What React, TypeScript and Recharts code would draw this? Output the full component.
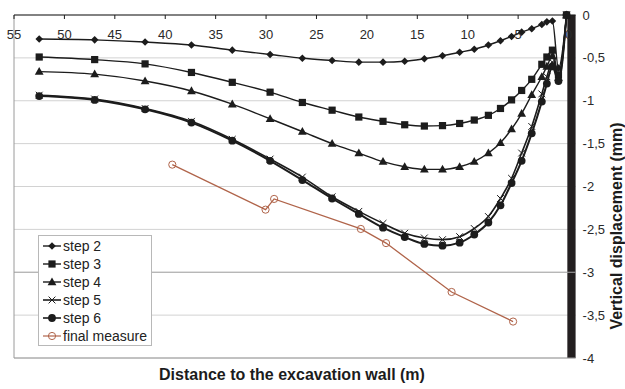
import React from 'react';
import { LineChart, Line, XAxis, YAxis, CartesianGrid, ReferenceArea, ReferenceLine, Label } from 'recharts';

const FONT = '"Liberation Sans", Arial, Helvetica, sans-serif';
const INK = '#1c1c1c';
const BROWN = '#b0644a';

// distances (m) of the step measurement points
const stepDistances = [52.5, 47.0, 42.0, 37.4, 33.35, 29.6, 26.4, 23.45, 20.8, 18.4, 16.25, 14.3, 12.5, 10.8, 9.35, 7.95, 6.75, 5.65, 4.65, 3.65, 2.65, 2.15, 1.6, 1.0, 0.2];
const step2 = [-0.28, -0.29, -0.315, -0.35, -0.41, -0.46, -0.505, -0.53, -0.55, -0.55, -0.54, -0.51, -0.475, -0.435, -0.4, -0.35, -0.3, -0.25, -0.2, -0.16, -0.11, -0.08, -0.07, -0.62, 0];
const step3 = [-0.49, -0.52, -0.57, -0.67, -0.785, -0.9, -1.02, -1.11, -1.19, -1.24, -1.28, -1.295, -1.29, -1.265, -1.225, -1.17, -1.09, -0.99, -0.88, -0.75, -0.575, -0.49, -0.41, -0.7, 0];
const step4 = [-0.66, -0.69, -0.77, -0.886, -1.04, -1.21, -1.36, -1.5, -1.61, -1.71, -1.77, -1.8, -1.8, -1.77, -1.71, -1.61, -1.49, -1.33, -1.15, -0.93, -0.72, -0.6, -0.48, -0.73, 0];
const step5 = [-0.935, -0.98, -1.09, -1.24, -1.45, -1.68, -1.89, -2.12, -2.29, -2.43, -2.545, -2.6, -2.62, -2.585, -2.49, -2.35, -2.14, -1.905, -1.61, -1.3, -0.92, -0.72, -0.55, -0.75, 0];
const step6 = [-0.945, -0.99, -1.1, -1.255, -1.466, -1.7, -1.925, -2.14, -2.32, -2.48, -2.59, -2.67, -2.69, -2.655, -2.56, -2.42, -2.22, -1.96, -1.7, -1.38, -1.01, -0.8, -0.6, -0.77, 0];

const finalDistances = [39.3, 30.05, 29.2, 20.6, 18.1, 11.6, 5.5];
const finalMeasure = [-1.745, -2.27, -2.145, -2.495, -2.66, -3.23, -3.575];

const xTicks = [55, 50, 45, 40, 35, 30, 25, 20, 15, 10, 5, 0];
const yTicks = [0, -0.5, -1, -1.5, -2, -2.5, -3, -3.5, -4];

const stepData = stepDistances.map((d, i) => ({ d, s2: step2[i], s3: step3[i], s4: step4[i], s5: step5[i], s6: step6[i] }));
const finalData = finalDistances.map((d, i) => ({ d, fm: finalMeasure[i] }));

type Shape = 'diamond' | 'square' | 'triangle' | 'x' | 'circle' | 'open';

function marker(shape: Shape, cx: number, cy: number, key?: any) {
  switch (shape) {
    case 'diamond': {
      const s = 3.8;
      return <path key={key} d={`M${cx},${cy - s}L${cx + s},${cy}L${cx},${cy + s}L${cx - s},${cy}Z`} fill={INK} />;
    }
    case 'square': {
      const s = 3.6;
      return <rect key={key} x={cx - s} y={cy - s} width={2 * s} height={2 * s} fill={INK} />;
    }
    case 'triangle':
      return <path key={key} d={`M${cx},${cy - 4.6}L${cx + 4.4},${cy + 3.2}L${cx - 4.4},${cy + 3.2}Z`} fill={INK} />;
    case 'x':
      return (
        <path key={key} d={`M${cx - 3.4},${cy - 3.4}L${cx + 3.4},${cy + 3.4}M${cx - 3.4},${cy + 3.4}L${cx + 3.4},${cy - 3.4}`} stroke={INK} strokeWidth={1} fill="none" />
      );
    case 'circle':
      return <circle key={key} cx={cx} cy={cy} r={3.9} fill={INK} />;
    case 'open':
      return <circle key={key} cx={cx} cy={cy} r={3.6} fill="none" stroke={BROWN} strokeWidth={1} />;
  }
  return null;
}

const dotFor = (shape: Shape) => (p: any) => {
  if (p.cx == null || p.cy == null) return <g key={p.index} />;
  return marker(shape, p.cx, p.cy, p.index);
};

const series: { key: string; name: string; shape: Shape; width: number; color: string }[] = [
  { key: 's2', name: 'step 2', shape: 'diamond', width: 1.4, color: INK },
  { key: 's3', name: 'step 3', shape: 'square', width: 1.4, color: INK },
  { key: 's4', name: 'step 4', shape: 'triangle', width: 1.4, color: INK },
  { key: 's5', name: 'step 5', shape: 'x', width: 1.6, color: INK },
  { key: 's6', name: 'step 6', shape: 'circle', width: 2, color: INK },
];

const fmt = (v: number) => String(v).replace('.', ',');

export default function App() {
  return (
    <div style={{ position: 'absolute', left: 0, top: 0, width: 625, height: 389, background: '#fff', fontFamily: FONT }}>
      <LineChart width={625} height={389} margin={{ top: 15, right: 0, bottom: 31, left: 14 }}>
        <CartesianGrid horizontal vertical={false} stroke="#d2d2d2" strokeWidth={1} />
        <XAxis
          type="number"
          dataKey="d"
          domain={[-0.7, 55]}
          reversed
          allowDataOverflow
          orientation="top"
          mirror
          ticks={xTicks}
          interval={0}
          tickSize={4}
          tickMargin={8}
          height={30}
          axisLine={{ stroke: INK, strokeWidth: 1.2 }}
          tickLine={{ stroke: INK }}
          tick={{ fontSize: 13, fill: '#2a2a2a', fontFamily: FONT, dy: 3 }}
        >
          <Label
            content={() => (
              <text x={292} y={380} textAnchor="middle" fontSize={16} fontWeight="bold" fill={INK} fontFamily={FONT}>
                Distance to the excavation wall (m)
              </text>
            )}
          />
        </XAxis>
        <YAxis
          type="number"
          orientation="right"
          domain={[-4, 0]}
          ticks={yTicks}
          interval={0}
          width={49.4}
          axisLine={false}
          tickLine={false}
          tickSize={0}
          tickMargin={7}
          tickFormatter={fmt}
          tick={{ fontSize: 13, fill: '#2a2a2a', fontFamily: FONT, textAnchor: 'start' }}
        >
          <Label
            content={() => (
              <text x={616} y={226} textAnchor="middle" dominantBaseline="central" transform="rotate(-90 616 226)" fontSize={16} fontWeight="bold" fill={INK} fontFamily={FONT}>
                Vertical displacement (mm)
              </text>
            )}
          />
        </YAxis>
        <ReferenceLine y={-3} stroke="#ababab" strokeWidth={1} />
        <ReferenceLine y={-4} stroke="#9a9a9a" strokeWidth={1} />
        <ReferenceLine x={55} stroke="#9a9a9a" strokeWidth={1} />
        {series.map((s) => (
          <Line
            key={s.key}
            data={stepData}
            dataKey={s.key}
            name={s.name}
            type="monotone"
            stroke={s.color}
            strokeWidth={s.width}
            dot={dotFor(s.shape)}
            activeDot={false}
            isAnimationActive={false}
          />
        ))}
        <Line
          data={finalData}
          dataKey="fm"
          name="final measure"
          type="linear"
          stroke={BROWN}
          strokeWidth={1.3}
          dot={dotFor('open')}
          activeDot={false}
          isAnimationActive={false}
        />
        <ReferenceArea x1={0.12} x2={-0.7} y1={0} y2={-4} fill="#231f20" fillOpacity={1} stroke="none" ifOverflow="visible" />
      </LineChart>
      <div
        style={{
          position: 'absolute',
          left: 38,
          top: 235,
          width: 114,
          height: 111,
          border: '1px solid #b8b8b8',
          background: '#fff',
          boxSizing: 'border-box',
          paddingTop: 1,
        }}
      >
        {[...series.map((s) => ({ name: s.name, shape: s.shape, color: s.color, width: s.width })), { name: 'final measure', shape: 'open' as Shape, color: BROWN, width: 1.2 }].map((r) => (
          <div key={r.name} style={{ height: 18, display: 'flex', alignItems: 'center', fontSize: 14, color: '#222', lineHeight: '18px' }}>
            <svg width={21} height={14} style={{ marginLeft: 3, flex: 'none' }}>
              <line x1={1} y1={7} x2={19} y2={7} stroke={r.color} strokeWidth={Math.min(r.width, 1.6)} />
              {marker(r.shape, 10, 7)}
            </svg>
            <span style={{ whiteSpace: 'nowrap' }}>{r.name}</span>
          </div>
        ))}
      </div>
    </div>
  );
}
